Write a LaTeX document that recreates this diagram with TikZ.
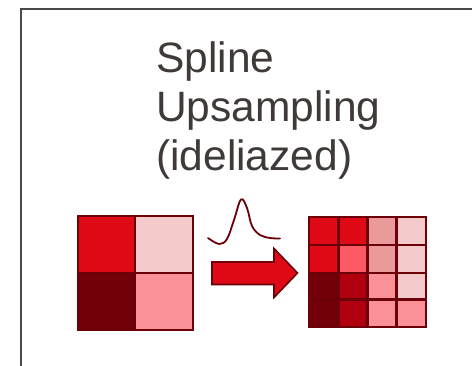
\documentclass[tikz,border=0pt]{standalone}
\usepackage{fontspec}
\setmainfont{Liberation Sans}
\begin{document}
\begin{tikzpicture}[x=1pt,y=-1pt]
\definecolor{cred}{HTML}{E00A16}
\definecolor{cdark}{HTML}{730008}
\definecolor{cmid}{HTML}{B00010}
\definecolor{cpink}{HTML}{F5CACB}
\definecolor{csalmon}{HTML}{FA9198}
\definecolor{crose}{HTML}{EB9A9C}
\definecolor{ccoral}{HTML}{FC5B66}
\definecolor{cedge}{HTML}{6B0008}
\definecolor{cframe}{HTML}{4A4A4A}
\definecolor{ctext}{HTML}{3F3A38}
\tikzset{
  cell/.style={fill=#1},
  gridline/.style={draw=cedge, line width=2.6pt, line cap=rect},
  lbl/.style={anchor=base west, inner sep=0pt, text=ctext, font=\fontsize{42.5}{49}\selectfont},
}
\useasboundingbox (0,0) rectangle (472,366);
\fill[white] (0,0) rectangle (472,366);
\draw[cframe, line width=1.4pt] (21,370) -- (21,9) -- (476,9);
% title
\node[lbl] (t1) at (156,73) {Spline};
\node[lbl] (t2) at (156,122) {Upsampling};
\node[lbl] (t3) at (156,171) {(ideliazed)};
% left 2x2 grid
\path[cell=cred]    (78,216) rectangle (135,273);
\path[cell=cpink]   (135,216) rectangle (193,273);
\path[cell=cdark]   (78,273) rectangle (135,330);
\path[cell=csalmon] (135,273) rectangle (193,330);
\draw[gridline] (78,216) rectangle (193,330) (135,216) -- (135,330) (78,273) -- (193,273);
\node[inner sep=0pt, minimum width=115pt, minimum height=114pt] (L) at (135.5,273) {};
% right 4x4 grid
\foreach \c [count=\i from 0] in {cred,cred,crose,cpink}{
  \path[cell=\c] (309+29.25*\i,217) rectangle (309+29.25*\i+29.25,245);}
\foreach \c [count=\i from 0] in {cred,ccoral,crose,cpink}{
  \path[cell=\c] (309+29.25*\i,245) rectangle (309+29.25*\i+29.25,273);}
\foreach \c [count=\i from 0] in {cdark,cmid,csalmon,cpink}{
  \path[cell=\c] (309+29.25*\i,273) rectangle (309+29.25*\i+29.25,299.5);}
\foreach \c [count=\i from 0] in {cdark,cmid,csalmon,csalmon}{
  \path[cell=\c] (309+29.25*\i,299.5) rectangle (309+29.25*\i+29.25,327);}
\draw[gridline] (309,217) rectangle (426,327)
  (338.25,217) -- (338.25,327) (367.5,217) -- (367.5,327) (396.75,217) -- (396.75,327)
  (309,245) -- (426,245) (309,273) -- (426,273) (309,299.5) -- (426,299.5);
\node[inner sep=0pt, minimum width=117pt, minimum height=110pt] (R) at (367.5,272) {};
% arrow
\path[fill=cred, draw=cedge, line width=1.6pt, line join=miter]
  (212,262) -- (274,262) -- (274,248.5) -- (297.5,273) -- (274,297.5) -- (274,284.5) -- (212,284.5) -- cycle;
\coordinate (ar) at (297.5,273);
% bell curve
\draw[cedge, line width=1.8pt, line cap=round]
  plot[smooth, tension=0.6] coordinates {(208,238) (219,244) (227,239) (234,220) (241,199.5) (247,208) (252,226) (260,235) (270,238) (280,238.5)};
\end{tikzpicture}
\end{document}
